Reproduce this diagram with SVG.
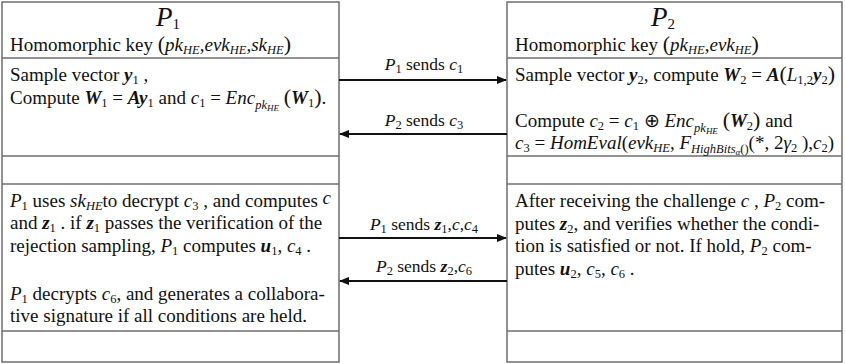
<svg xmlns="http://www.w3.org/2000/svg" width="845" height="364" viewBox="0 0 845 364">
<style>
text{font-family:'Liberation Serif','Times New Roman',serif;font-size:19px;fill:#111}
.i{font-style:italic}
.b{font-style:italic;font-weight:bold}
.s{font-size:12.5px}
.ss{font-size:9px}
.box{fill:#fff;stroke:#6e6e6e;stroke-width:1.5}
.div{stroke:#6e6e6e;stroke-width:1.3}
.arr{stroke:#111;stroke-width:2;fill:none;marker-end:url(#ah)}
.big{font-size:27px;font-style:italic}
.par{font-size:22px}
.lbl{font-size:17.5px}
</style>
<defs>
<marker id="ah" markerUnits="userSpaceOnUse" markerWidth="10" markerHeight="8" refX="9" refY="4" orient="auto">
<path d="M0,0 L10,4 L0,8 z" fill="#111"/>
</marker>
</defs>
<rect width="845" height="364" fill="#fff"/>

<g id="P1">
<rect class="box" x="2" y="2" width="337" height="360"/>
<line class="div" x1="2" y1="58" x2="339" y2="58"/>
<line class="div" x1="2" y1="156" x2="339" y2="156"/>
<line class="div" x1="2" y1="184" x2="339" y2="184"/>
<line class="div" x1="2" y1="331" x2="339" y2="331"/>
<text x="168" y="26" text-anchor="middle"><tspan class="big">P</tspan><tspan dy="3" font-size="15">1</tspan></text>
<text x="10" y="51">Homomorphic key <tspan class="par">(</tspan><tspan class="i">pk</tspan><tspan class="s i" dy="3">HE</tspan><tspan dy="-3">,</tspan><tspan class="i">evk</tspan><tspan class="s i" dy="3">HE</tspan><tspan dy="-3">,</tspan><tspan class="i">sk</tspan><tspan class="s i" dy="3">HE</tspan><tspan class="par" dy="-3">)</tspan></text>
<text x="10" y="81">Sample vector <tspan class="b">y</tspan><tspan class="s" dy="3">1</tspan><tspan dy="-3"> ,</tspan></text>
<text x="10" y="104">Compute <tspan class="b">W</tspan><tspan class="s" dy="3">1</tspan><tspan dy="-3"> = </tspan><tspan class="b">Ay</tspan><tspan class="s" dy="3">1</tspan><tspan dy="-3"> and </tspan><tspan class="i">c</tspan><tspan class="s" dy="3">1</tspan><tspan dy="-3"> = </tspan><tspan class="i">Enc</tspan><tspan class="s i" dy="5">pk</tspan><tspan class="ss i" dy="2">HE</tspan><tspan dy="-7"> </tspan><tspan class="par">(</tspan><tspan class="b">W</tspan><tspan class="s" dy="3">1</tspan><tspan class="par" dy="-3">)</tspan><tspan>.</tspan></text>
<text x="10" y="207"><tspan class="i">P</tspan><tspan class="s" dy="3">1</tspan><tspan dy="-3"> uses </tspan><tspan class="i">sk</tspan><tspan class="s i" dy="3">HE</tspan><tspan dy="-3">to decrypt </tspan><tspan class="i">c</tspan><tspan class="s" dy="3">3</tspan><tspan dy="-3"> , and computes </tspan><tspan class="i" dy="-3">c</tspan></text>
<text x="10" y="229">and <tspan class="b">z</tspan><tspan class="s" dy="3">1</tspan><tspan dy="-3"> . if </tspan><tspan class="b">z</tspan><tspan class="s" dy="3">1</tspan><tspan dy="-3"> passes the verification of the</tspan></text>
<text x="10" y="252">rejection sampling, <tspan class="i">P</tspan><tspan class="s" dy="3">1</tspan><tspan dy="-3"> computes </tspan><tspan class="b">u</tspan><tspan class="s" dy="3">1</tspan><tspan dy="-3">, </tspan><tspan class="i">c</tspan><tspan class="s" dy="3">4</tspan><tspan dy="-3">  .</tspan></text>
<text x="10" y="300"><tspan class="i">P</tspan><tspan class="s" dy="3">1</tspan><tspan dy="-3"> decrypts </tspan><tspan class="i">c</tspan><tspan class="s" dy="3">6</tspan><tspan dy="-3">, and generates a collabora-</tspan></text>
<text x="10" y="322">tive signature if all conditions are held.</text>
</g>

<g id="P2">
<rect class="box" x="507" y="2" width="335" height="360"/>
<line class="div" x1="507" y1="58" x2="842" y2="58"/>
<line class="div" x1="507" y1="156" x2="842" y2="156"/>
<line class="div" x1="507" y1="184" x2="842" y2="184"/>
<line class="div" x1="507" y1="331" x2="842" y2="331"/>
<text x="663" y="26" text-anchor="middle"><tspan class="big">P</tspan><tspan dy="3" font-size="15">2</tspan></text>
<text x="515" y="51">Homomorphic key <tspan class="par">(</tspan><tspan class="i">pk</tspan><tspan class="s i" dy="3">HE</tspan><tspan dy="-3">,</tspan><tspan class="i">evk</tspan><tspan class="s i" dy="3">HE</tspan><tspan class="par" dy="-3">)</tspan></text>
<text x="515" y="81">Sample vector <tspan class="b">y</tspan><tspan class="s" dy="3">2</tspan><tspan dy="-3">, compute </tspan><tspan class="b">W</tspan><tspan class="s" dy="3">2</tspan><tspan dy="-3"> = </tspan><tspan class="b">A</tspan><tspan class="par">(</tspan><tspan class="i">L</tspan><tspan class="s" dy="3">1,2</tspan><tspan class="b" dy="-3">y</tspan><tspan class="s" dy="3">2</tspan><tspan class="par" dy="-3">)</tspan></text>
<text x="515" y="127">Compute <tspan class="i">c</tspan><tspan class="s" dy="3">2</tspan><tspan dy="-3"> = </tspan><tspan class="i">c</tspan><tspan class="s" dy="3">1</tspan><tspan dy="-3"> ⊕ </tspan><tspan class="i">Enc</tspan><tspan class="s i" dy="5">pk</tspan><tspan class="ss i" dy="2">HE</tspan><tspan dy="-7"> </tspan><tspan class="par">(</tspan><tspan class="b">W</tspan><tspan class="s" dy="3">2</tspan><tspan class="par" dy="-3">)</tspan><tspan> and</tspan></text>
<text x="515" y="149"><tspan class="i">c</tspan><tspan class="s" dy="3">3</tspan><tspan dy="-3"> = </tspan><tspan class="i">HomEval</tspan><tspan>(</tspan><tspan class="i">evk</tspan><tspan class="s i" dy="3">HE</tspan><tspan dy="-3">, </tspan><tspan class="i">F</tspan><tspan class="s i" dy="4">HighBits</tspan><tspan class="ss i" dy="2">α</tspan><tspan class="s" dy="-2">()</tspan><tspan dy="-4">(*, 2</tspan><tspan class="i">γ</tspan><tspan class="s" dy="3">2</tspan><tspan dy="-3">  ),</tspan><tspan class="i">c</tspan><tspan class="s" dy="3">2</tspan><tspan dy="-3">)</tspan></text>
<text x="515" y="207">After receiving the challenge <tspan class="i">c</tspan> ,  <tspan class="i">P</tspan><tspan class="s" dy="3">2</tspan><tspan dy="-3"> com-</tspan></text>
<text x="515" y="230">putes <tspan class="b">z</tspan><tspan class="s" dy="3">2</tspan><tspan dy="-3">, and verifies whether the condi-</tspan></text>
<text x="515" y="252">tion is satisfied or not. If hold, <tspan class="i">P</tspan><tspan class="s" dy="3">2</tspan><tspan dy="-3"> com-</tspan></text>
<text x="515" y="275">putes <tspan class="b">u</tspan><tspan class="s" dy="3">2</tspan><tspan dy="-3">, </tspan><tspan class="i">c</tspan><tspan class="s" dy="3">5</tspan><tspan dy="-3">, </tspan><tspan class="i">c</tspan><tspan class="s" dy="3">6</tspan><tspan dy="-3"> .</tspan></text>
</g>

<g id="connectors">
<line class="arr" x1="339" y1="80" x2="506" y2="80"/>
<line class="arr" x1="507" y1="134" x2="340" y2="134"/>
<line class="arr" x1="339" y1="238" x2="506" y2="238"/>
<line class="arr" x1="507" y1="281" x2="340" y2="281"/>
<text class="lbl" x="424" y="70" text-anchor="middle"><tspan class="i">P</tspan><tspan class="s" dy="3">1</tspan><tspan dy="-3">  sends  </tspan><tspan class="i">c</tspan><tspan class="s" dy="3">1</tspan></text>
<text class="lbl" x="424" y="126" text-anchor="middle"><tspan class="i">P</tspan><tspan class="s" dy="3">2</tspan><tspan dy="-3">  sends  </tspan><tspan class="i">c</tspan><tspan class="s" dy="3">3</tspan></text>
<text class="lbl" x="424" y="230" text-anchor="middle"><tspan class="i">P</tspan><tspan class="s" dy="3">1</tspan><tspan dy="-3">  sends  </tspan><tspan class="b">z</tspan><tspan class="s" dy="3">1</tspan><tspan dy="-3">,</tspan><tspan class="i">c</tspan><tspan>,</tspan><tspan class="i">c</tspan><tspan class="s" dy="3">4</tspan></text>
<text class="lbl" x="424" y="272" text-anchor="middle"><tspan class="i">P</tspan><tspan class="s" dy="3">2</tspan><tspan dy="-3">  sends  </tspan><tspan class="b">z</tspan><tspan class="s" dy="3">2</tspan><tspan dy="-3">,</tspan><tspan class="i">c</tspan><tspan class="s" dy="3">6</tspan></text>
</g>
</svg>
